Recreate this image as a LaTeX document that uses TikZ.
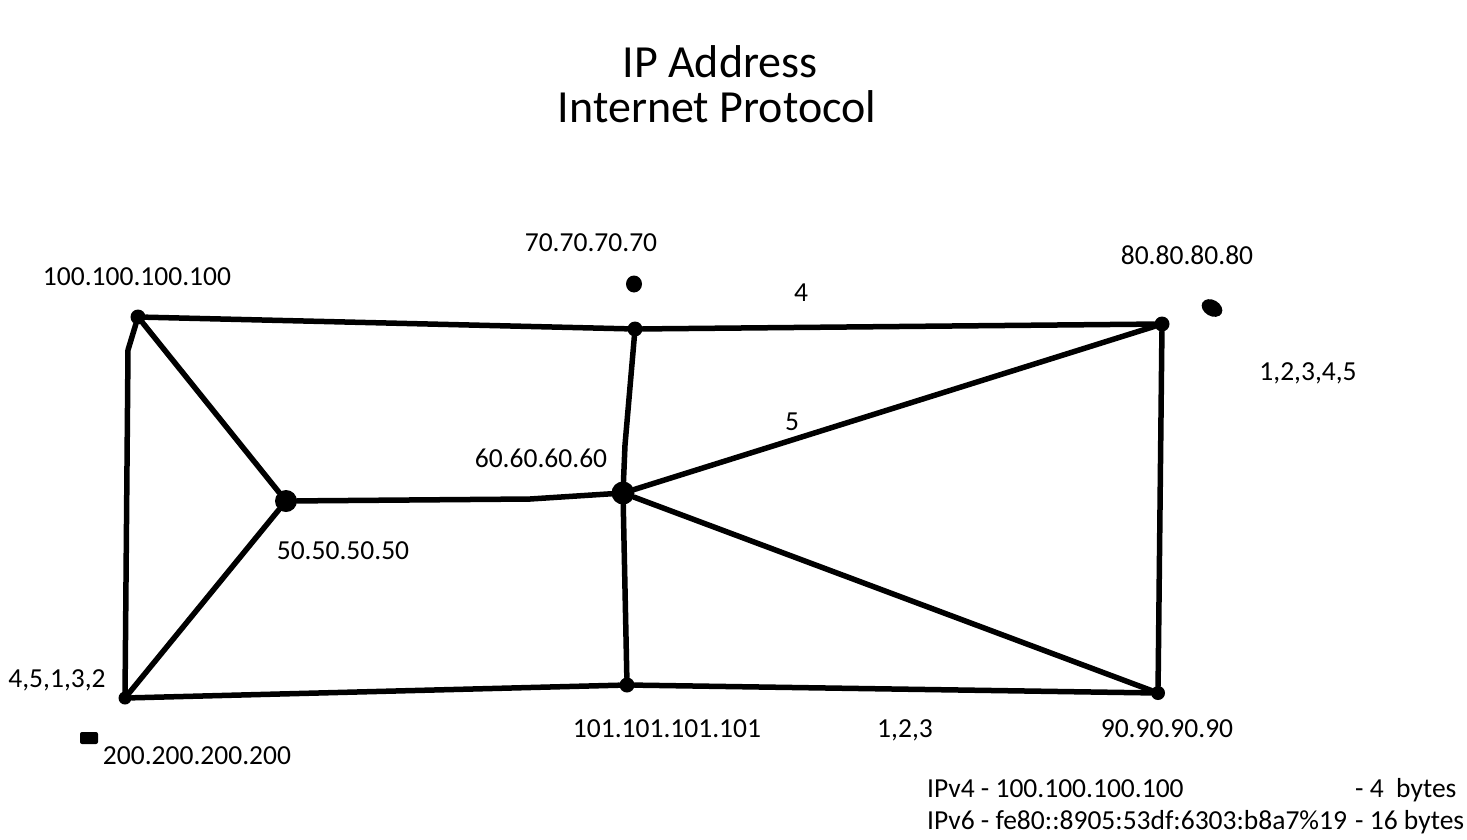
\documentclass[tikz,border=0pt]{standalone}
\usepackage{fontspec}
\setmainfont{Carlito}
\begin{document}
\begin{tikzpicture}[x=1pt,y=-1pt,
    dot/.style={circle, fill=black, inner sep=0pt, minimum size=#1},
    dot/.default=13pt,
    wire/.style={line width=5.5pt, line cap=round, line join=round},
    lbl/.style={anchor=base, inner sep=0pt, font=\fontsize{27.5}{33}\selectfont},
    ttl/.style={anchor=base, inner sep=0pt, font=\fontsize{46}{52}\selectfont}]
        \useasboundingbox (0,0) rectangle (1467,839);

        % Title
        \node[ttl] (title1) at (720,77) {IP Address};
        \node[ttl] (title2) at (717,122) {Internet Protocol};

        % Hosts
        \node[dot=15pt] (ip100) at (138,317) {};
        \node[dot=15pt] (ip70) at (635,329) {};
        \node[dot=15pt] (ip80) at (1162,324) {};
        \node[dot=23pt] (ip60) at (623,493) {};
        \node[dot=22pt] (ip50) at (286,501) {};
        \node[dot=13pt] (ip200) at (125,698) {};
        \node[dot=15pt] (ip101) at (627,685) {};
        \node[dot=14pt] (ip90) at (1158,693) {};

        % Bends of the hand drawn lines
        \coordinate (jog) at (128,350);
        \coordinate (bend) at (625,445);
        \coordinate (kink) at (530,499);

        % Links
        \draw[wire] (ip100) -- (ip70) -- (ip80);
        \draw[wire] (ip100) -- (jog) -- (ip200);
        \draw[wire] (ip100) -- (ip50);
        \draw[wire] (ip50) -- (kink) -- (ip60);
        \draw[wire] (ip50) -- (ip200);
        \draw[wire] (ip70) -- (bend) -- (ip60);
        \draw[wire] (ip60) -- (ip80);
        \draw[wire] (ip60) -- (ip90);
        \draw[wire] (ip60) -- (ip101);
        \draw[wire] (ip200) -- (ip101) -- (ip90);
        \draw[wire] (ip80) -- (ip90);

        % Stray marks
        \fill (634,284) ellipse (8 and 8.5);
        \fill[rotate around={-30:(1212,308)}] (1212,308) ellipse (11 and 8);
        \fill[rounded corners=2pt] (80,732) rectangle (98,744);

        % Addresses
        \node[lbl] (t100) at (137,285) {100.100.100.100};
        \node[lbl] (t70) at (591,251) {70.70.70.70};
        \node[lbl] (t80) at (1187,264) {80.80.80.80};
        \node[lbl] (t60) at (541,467) {60.60.60.60};
        \node[lbl] (t50) at (343,559) {50.50.50.50};
        \node[lbl] (t200) at (197,764) {200.200.200.200};
        \node[lbl] (t101) at (667,737) {101.101.101.101};
        \node[lbl] (t90) at (1167,737) {90.90.90.90};

        % Routes
        \node[lbl] (r4) at (801,301) {4};
        \node[lbl] (r5) at (792,430) {5};
        \node[lbl] (r12345) at (1308,380) {1,2,3,4,5};
        \node[lbl] (r45132) at (57,687) {4,5,1,3,2};
        \node[lbl] (r123) at (905,737) {1,2,3};

        % Address sizes
        \node[lbl, anchor=base west] (v4) at (927,797) {IPv4 - 100.100.100.100};
        \node[lbl, anchor=base west] (v4b) at (1355,797) {- 4\ \ bytes};
        \node[lbl, anchor=base west] (v6) at (927,829) {IPv6 - fe80::8905:53df:6303:b8a7\%19};
        \node[lbl, anchor=base west] (v6b) at (1355,829) {- 16 bytes};
\end{tikzpicture}
\end{document}
